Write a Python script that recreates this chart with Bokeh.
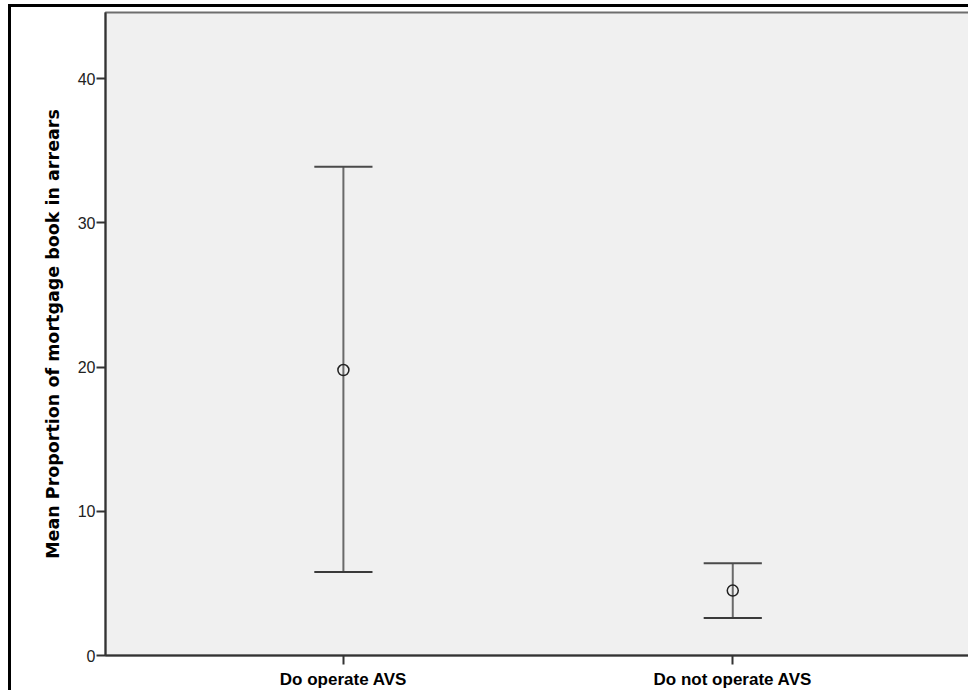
from bokeh.plotting import figure
from bokeh.models import FixedTicker, Range1d
from bokeh.embed import file_html
from bokeh.resources import INLINE

# Data
groups = ["Do operate AVS", "Do not operate AVS"]
means = [19.8, 4.5]
upper = [33.9, 6.4]
lower = [5.8, 2.6]
y_ticks = [0, 10, 20, 30, 40]

xs = [i + 1 for i in range(len(groups))]
cap = 0.0747

p = figure(width=960, height=686, output_backend="svg", toolbar_location=None,
           x_range=Range1d(0.389, 2.608), y_range=Range1d(0, 44.6),
           min_border_left=94, min_border_right=2, min_border_top=5, min_border_bottom=38)
p.styles = {"border-left": "3px solid black", "border-top": "3px solid black",
            "margin-left": "8px", "margin-top": "4px"}
p.background_fill_color = "#F0F0F0"
p.border_fill_color = "white"
p.outline_line_color = "#6e6e6e"
p.outline_line_width = 2
p.xgrid.visible = False
p.ygrid.visible = False

# stems
p.segment(x0=xs, y0=lower, x1=xs, y1=upper, line_color="#6a6a6a", line_width=2)
# caps
p.segment(x0=[x - cap for x in xs], y0=upper, x1=[x + cap for x in xs], y1=upper,
          line_color="#4a4a4a", line_width=2)
p.segment(x0=[x - cap for x in xs], y0=lower, x1=[x + cap for x in xs], y1=lower,
          line_color="#3a3a3a", line_width=2)
# means
p.scatter(x=xs, y=means, marker="circle", size=11, fill_alpha=0,
          line_color="#222222", line_width=1.5)

ya = p.yaxis[0]
ya.ticker = FixedTicker(ticks=y_ticks)
ya.minor_tick_line_color = None
ya.major_tick_out = 9
ya.major_tick_in = 0
ya.major_tick_line_color = "#333333"
ya.major_tick_line_width = 2
ya.axis_line_color = "#333333"
ya.axis_line_width = 2
ya.major_label_text_font = "Liberation Sans"
ya.major_label_text_font_size = "16px"
ya.major_label_text_color = "#222222"
ya.major_label_standoff = 1
ya.axis_label = "Mean Proportion of mortgage book in arrears"
ya.axis_label_text_font = "DejaVu Sans"
ya.axis_label_text_font_style = "bold"
ya.axis_label_text_font_size = "17.5px"
ya.axis_label_text_color = "#000000"
ya.axis_label_standoff = 12

xa = p.xaxis[0]
xa.ticker = FixedTicker(ticks=xs)
xa.major_label_overrides = {x: g for x, g in zip(xs, groups)}
xa.minor_tick_line_color = None
xa.major_tick_out = 9
xa.major_tick_in = 0
xa.major_tick_line_color = "#333333"
xa.major_tick_line_width = 2
xa.axis_line_color = "#333333"
xa.axis_line_width = 2
xa.major_label_text_font = "Liberation Sans"
xa.major_label_text_font_style = "bold"
xa.major_label_text_font_size = "17px"
xa.major_label_text_color = "#000000"
xa.major_label_standoff = 5

open("out.html", "w").write(file_html(p, INLINE))
